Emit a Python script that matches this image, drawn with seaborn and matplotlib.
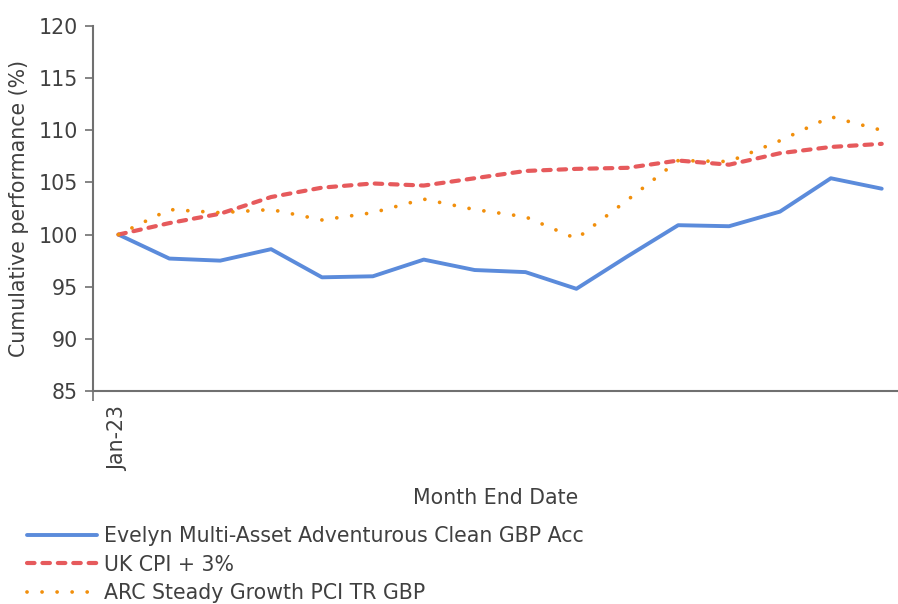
import numpy as np
import pandas as pd
import matplotlib
matplotlib.use("Agg")
import matplotlib.pyplot as plt
import seaborn as sns

months = ["Jan-23", "Feb-23", "Mar-23", "Apr-23", "May-23", "Jun-23", "Jul-23", "Aug-23",
          "Sep-23", "Oct-23", "Nov-23", "Dec-23", "Jan-24", "Feb-24", "Mar-24", "Apr-24"]
evelyn = [100.0, 97.7, 97.5, 98.6, 95.9, 96.0, 97.6, 96.6, 96.4, 94.8, 97.9, 100.9, 100.8, 102.2, 105.4, 104.4]
cpi = [100.0, 101.1, 102.0, 103.6, 104.5, 104.9, 104.7, 105.4, 106.1, 106.3, 106.4, 107.1, 106.7, 107.8, 108.4, 108.7]
arc = [100.0, 102.4, 102.1, 102.4, 101.4, 102.1, 103.4, 102.4, 101.7, 99.6, 103.3, 107.1, 107.0, 109.0, 111.3, 110.0]
names = ["Evelyn Multi-Asset Adventurous Clean GBP Acc", "UK CPI + 3%", "ARC Steady Growth PCI TR GBP"]
y_ticks = [85, 90, 95, 100, 105, 110, 115, 120]

sns.set_theme(style="white")
FONT = "DejaVu Sans"
plt.rcParams["font.family"] = [FONT]
TXT = "#404040"
FS = 14.8

fig = plt.figure(figsize=(8.98, 6.04), dpi=100)
ax = fig.add_axes([93 / 898, 1 - 391 / 604, 1 - 93 / 898, (391 - 26) / 604])

pos = np.arange(len(months))
df = pd.DataFrame({"pos": pos, "evelyn": evelyn, "cpi": cpi, "arc": arc})

sns.lineplot(data=df, x="pos", y="evelyn", ax=ax, color="#5B8BDB", lw=2.8, label=names[0])
sns.lineplot(data=df, x="pos", y="cpi", ax=ax, color="#E65A5C", lw=3.0, label=names[1])
sns.lineplot(data=df, x="pos", y="arc", ax=ax, color="#F18F0C", lw=2.7, label=names[2])
lines = ax.get_lines()
lines[0].set_solid_capstyle("round")
lines[1].set_linestyle((0, (1.8, 1.9)))
lines[1].set_dash_capstyle("round")
lines[2].set_linestyle((0, (0.01, 4.0)))
lines[2].set_dash_capstyle("round")

ax.set_xlim(-0.5, 15.32)
ax.set_ylim(85, 120)
ax.set_yticks(y_ticks)
ax.set_yticklabels([str(v) for v in y_ticks], fontsize=FS, color=TXT)
ax.set_xticks([0])
ax.set_xticklabels([months[0]], rotation=90, fontsize=FS, color=TXT)
ax.set_xticks([-0.5], minor=True)
ax.tick_params(axis="x", which="major", length=0, pad=11)
ax.tick_params(axis="x", which="minor", length=7, width=1.2, color="#707070", direction="out", bottom=True)
ax.tick_params(axis="y", length=6, width=1.2, color="#707070", direction="out", left=True, pad=5)

for s in ["top", "right"]:
    ax.spines[s].set_visible(False)
for s in ["left", "bottom"]:
    ax.spines[s].set_color("#707070")
    ax.spines[s].set_linewidth(1.5)

ax.set_ylabel("Cumulative performance (%)", fontsize=FS, color=TXT, labelpad=7)
ax.set_xlabel("Month End Date", fontsize=FS, color=TXT, labelpad=12)

leg = ax.legend(loc="upper left", bbox_to_anchor=(27 / 898, 1 - 526 / 604), bbox_transform=fig.transFigure,
                frameon=False, fontsize=FS, handlelength=3.4, handletextpad=0.33,
                labelspacing=0.42, borderaxespad=0, borderpad=0, labelcolor=TXT)

fig.savefig("out.png", dpi=100)
